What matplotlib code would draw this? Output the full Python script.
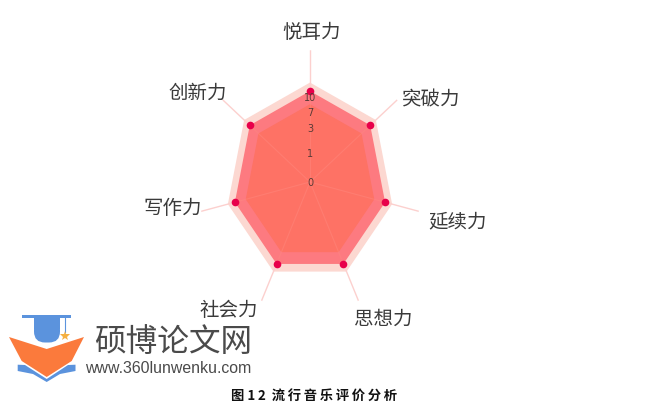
import numpy as np
import matplotlib
matplotlib.use("Agg")
import matplotlib.pyplot as plt
from matplotlib.patches import Polygon, FancyBboxPatch

plt.rcParams['font.family'] = ['Noto Sans CJK SC', 'DejaVu Sans']

categories = ['悦耳力', '突破力', '延续力', '思想力', '社会力', '写作力', '创新力']
scores = [10.7, 10.7, 10.7, 10.7, 10.7, 10.7, 10.7]
tick_values = [0, 1, 3, 7, 10]
tick_labels = ['0', '1', '3', '7', '10']
# the radial axis is not linear, each tick sits at this fraction of the 10 ring
tick_pos = [0, 0.345, 0.63, 0.82, 1.0]
band_outer = 11.7   # light pink ring, goes past the scale
band_inner = 8.6
spoke_end = 15.5

W, H = 652, 406
cx, cy = 310, 183
rx, ry = 72, 85     # the source picture is squashed sideways

fig = plt.figure(figsize=(W / 100, H / 100), dpi=100, facecolor='white')


def to_pos(v):
    v = np.asarray(v, dtype=float)
    over = np.maximum(v - 10, 0) / 10
    return np.interp(v, tick_values, tick_pos) + over


def from_pos(p):
    p = np.asarray(p, dtype=float)
    over = np.maximum(p - 1, 0) * 10
    return np.interp(p, tick_pos, tick_values) + over


# radar, sized so that value 10 lands on rx / ry
rmax = spoke_end
pos_max = float(to_pos(rmax))
w = 2 * rx * pos_max / W
h = 2 * ry * pos_max / H
ax = fig.add_axes([cx / W - w / 2, 1 - cy / H - h / 2, w, h], projection='polar')
ax.set_aspect('auto')
ax.set_theta_zero_location('N')
ax.set_theta_direction(-1)
ax.set_yscale('function', functions=(to_pos, from_pos))
ax.set_ylim(0, rmax)
ax.patch.set_alpha(0)
ax.spines['polar'].set_visible(False)
ax.grid(False)
ax.set_xticks([])
ax.set_yticks([])

theta = np.linspace(0, 2 * np.pi, len(categories), endpoint=False)
closed = np.append(theta, theta[0])

ax.fill(closed, [band_outer] * len(closed), color='#fcd8d1', lw=0, zorder=1)
ax.fill(closed, scores + scores[:1], color='#fd7a80', lw=0, zorder=2)
ax.fill(closed, [band_inner] * len(closed), color='#fe7265', lw=0, zorder=3)
for t in theta:
    ax.plot([t, t], [0, rmax], color='#fcd0ce', lw=1.0, zorder=1.5)
    ax.plot([t, t], [0, 10], color='#fe8a80', lw=0.8, alpha=0.45, zorder=4)
ax.plot(theta, scores, ls='none', marker='o', ms=5.5, color='#e8004a', mew=0, zorder=6, clip_on=False)

for v, lab in zip(tick_values, tick_labels):
    ax.text(0, v, lab, fontsize=7, color='#5a3a36', ha='center', va='center', zorder=7,
            family='DejaVu Sans')

# page level things in pixel coordinates
page = fig.add_axes([0, 0, 1, 1], zorder=5)
page.set_xlim(0, W)
page.set_ylim(H, 0)
page.axis('off')
page.patch.set_alpha(0)

label_xy = [(312, 32), (431, 100), (458, 222), (383, 319), (229, 311), (173, 209), (198, 93)]
for name, (x, y) in zip(categories, label_xy):
    page.text(x, y, name, fontsize=14, color='#3a3a3a', ha='center', va='center')

blue = '#5b93dd'
orange = '#fb7a3c'
page.add_patch(Polygon([(22, 316), (71, 316), (71, 318.5), (22, 318.5)], color=blue, lw=0))
page.add_patch(FancyBboxPatch((34, 320), 26, 23.5, boxstyle='round,pad=0,rounding_size=11', color=blue, lw=0))
page.add_patch(Polygon([(34, 318.5), (60, 318.5), (60, 330), (34, 330)], color=blue, lw=0))
page.plot([65.3, 65.3], [318, 333], color=blue, lw=0.8)
page.plot([65], [337], marker='*', ms=7, color='#f5b041', mew=0)
page.add_patch(Polygon([(9, 338), (46.7, 350), (84, 338), (71.7, 362), (46.7, 378), (21.7, 362)], color=orange, lw=0))
page.add_patch(Polygon([(17.7, 365.7), (25, 366), (46.7, 380), (68, 366), (75.5, 365.7), (75.5, 372),
                        (60, 375), (46.7, 383), (33, 375), (17.7, 372)], color=blue, lw=0))

page.text(173, 342, '硕博论文网', fontsize=22.8, color='#4a4a4a', ha='center', va='center')
page.text(168, 369, 'www.360lunwenku.com', fontsize=11.4, color='#4a4a4a', ha='center', va='center',
          family=['Liberation Sans', 'DejaVu Sans'])
page.text(314, 396, '图 1\u20092  ' + '\u2009'.join('流行音乐评价分析'), fontsize=9.6, color='#111111',
          ha='center', va='center', fontweight='bold')

fig.savefig('out.png', dpi=100)
